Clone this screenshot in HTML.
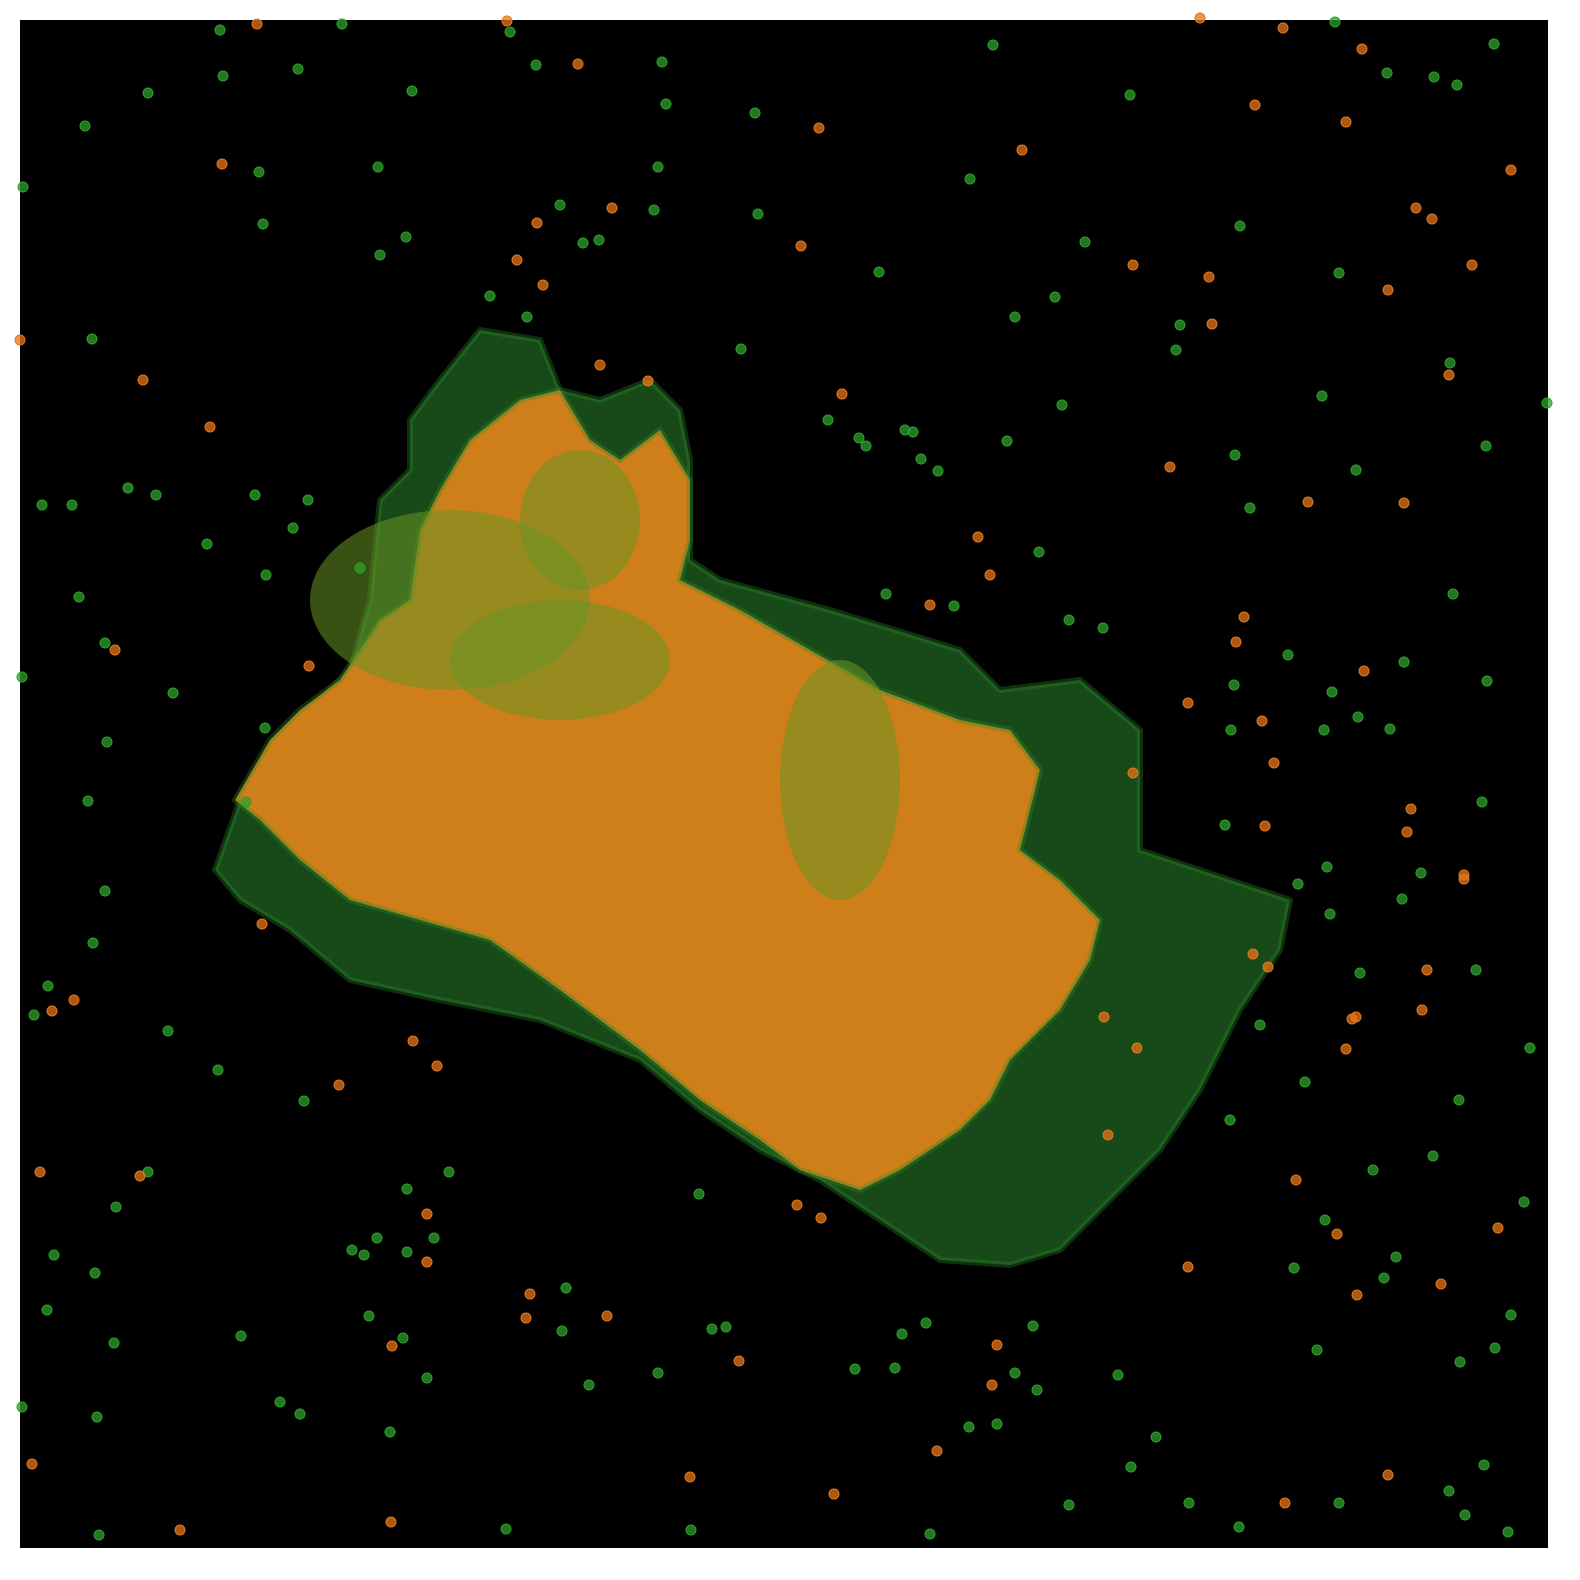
<!DOCTYPE html>
<html><head><meta charset="utf-8"><style>
html,body{margin:0;padding:0;background:#fff;}
svg{display:block;}
</style></head>
<body>
<svg id="chart" width="1580" height="1580" xmlns="http://www.w3.org/2000/svg">
<rect x="0" y="0" width="1580" height="1580" fill="#fff"/>
<rect x="20" y="20" width="1528" height="1528" fill="#000"/>
<g id="cloud"></g>
<g id="pts"></g>
</svg>
<script>
// data coordinates: domain [0,1528] on both axes (y downward)
const greenOutline = [[460,310],[520,320],[540,370],[580,380],[630,360],[660,390],[670,440],[670,540],[700,560],[810,590],[940,630],[980,670],[1060,660],[1120,710],[1120,830],[1180,850],[1270,880],[1260,930],[1220,990],[1180,1070],[1140,1130],[1080,1190],[1040,1230],[990,1245],[920,1240],[860,1200],[800,1160],[740,1130],[680,1090],[620,1040],[520,1000],[420,980],[330,960],[270,910],[220,880],[195,850],[220,780],[280,700],[330,650],[350,580],[360,480],[390,450],[390,400],[420,360]];
const orangeOutline = [[215,780],[250,720],[280,690],[320,660],[360,600],[390,580],[400,510],[420,470],[450,420],[500,380],[540,370],[570,420],[600,440],[640,410],[670,460],[670,520],[660,560],[720,590],[790,630],[860,670],[940,700],[990,710],[1020,750],[1000,830],[1040,860],[1080,900],[1070,940],[1040,990],[990,1040],[970,1080],[940,1110],[880,1150],[840,1170],[780,1150],[740,1120],[680,1080],[620,1030],[540,970],[470,920],[400,900],[330,880],[280,840],[240,800]];
const greenPatches = [[430,580,140,90],[540,640,110,60],[560,500,60,70],[820,760,60,120]];
const greenX = [200,322,490,203,278,128,392,516,642,646,65,239,358,638,735,973,1110,1367,1414,1437,1474,1315,3,243,360,386,540,563,579,634,738,950,1065,1220,1319,859,470,507,995,1035,1160,1156,72,721,1430,1527,1302,1042,808,839,846,885,893,901,918,987,1215,1336,1466,1230,22,52,108,136,235,288,273,187,246,340,59,1019,866,934,1049,1083,1268,1384,1433,1467,1312,1338,1370,1304,1211,1214,2,85,153,245,87,226,1205,1240,1462,68,85,73,1307,1278,1310,1382,1401,1456,1340,1510,1439,1285,1210,28,14,148,198,284,128,96,34,75,429,387,357,332,344,387,414,679,546,542,1274,1305,1353,1413,1504,1376,1364,1491,1475,1440,1297,1136,1111,1098,1017,1013,995,906,882,875,835,706,692,638,569,407,383,349,221,260,280,94,27,2,77,370,949,977,1049,1169,1219,1319,1429,1445,1464,1488,671,486,910,79];
const greenY = [10,4,12,56,49,73,71,45,42,84,106,152,147,147,93,25,75,53,57,65,24,2,167,204,235,217,185,223,220,190,194,159,222,206,253,252,276,297,297,277,305,330,319,329,343,383,376,385,400,418,426,410,412,439,451,421,435,450,426,488,485,485,468,475,475,480,508,524,555,548,577,532,574,586,600,608,635,642,574,661,672,697,709,710,710,665,657,623,673,708,722,782,805,1005,782,781,871,923,847,864,894,879,853,950,953,1028,1080,1062,1100,966,995,1011,1050,1081,1152,1187,1235,1253,1152,1169,1218,1230,1235,1232,1218,1174,1268,1311,1248,1200,1150,1136,1182,1237,1258,1295,1328,1342,1330,1417,1447,1355,1370,1306,1353,1303,1314,1348,1349,1307,1309,1353,1365,1358,1318,1296,1316,1382,1394,1323,1290,1387,1397,1412,1407,1404,1485,1483,1507,1483,1471,1495,1445,1512,1510,1509,1514,1515];
const orangeX = [237,487,558,1180,1263,1342,1235,1326,799,1002,1491,202,592,517,497,523,781,1113,1189,1368,1396,1412,1452,1192,580,628,822,1429,123,190,0,1150,1288,1384,958,970,910,1224,1216,1344,289,95,1168,1242,1254,1113,1391,1387,1444,1444,1245,242,1233,1248,1407,1402,1332,1336,1326,1084,1117,54,32,393,417,319,20,120,407,407,510,506,587,719,777,801,1088,1276,1317,1168,1337,1421,1478,977,972,917,670,814,372,371,160,12,1265,1368];
const orangeY = [4,1,44,-2,8,29,85,102,108,130,150,144,188,203,240,265,226,245,257,270,188,199,245,304,345,361,374,355,360,407,320,447,482,483,517,555,585,597,622,651,646,630,683,701,743,753,789,812,855,859,806,904,934,947,950,990,999,997,1029,997,1028,980,991,1021,1046,1065,1152,1156,1194,1242,1274,1298,1296,1341,1185,1198,1115,1160,1214,1247,1275,1264,1208,1325,1365,1431,1457,1474,1326,1502,1510,1444,1483,1455];

const X0 = 20, Y0 = 20, W = 1528, H = 1528, D = 1528;
const xs = v => X0 + v / D * W;
const ys = v => Y0 + v / D * H;
const NS = 'http://www.w3.org/2000/svg';
const cloud = document.getElementById('cloud');
const pts = document.getElementById('pts');

function poly(arr, fill, op, name) {
  const p = document.createElementNS(NS, 'polygon');
  p.setAttribute('points', arr.map(a => xs(a[0]) + ',' + ys(a[1])).join(' '));
  p.setAttribute('fill', fill);
  p.setAttribute('fill-opacity', op);
  p.setAttribute('stroke', '#2a8a2a');
  p.setAttribute('stroke-opacity', '0.35');
  p.setAttribute('stroke-width', '6');
  p.setAttribute('stroke-linejoin', 'round');
  
  
  cloud.appendChild(p);
}
poly(greenOutline, '#174a18', 1, 'green-cloud-region');
poly(orangeOutline, '#cf7f1a', 1, 'orange-cloud-region');
greenPatches.forEach(g => {
  const e = document.createElementNS(NS, 'ellipse');
  e.setAttribute('cx', xs(g[0]));
  e.setAttribute('cy', ys(g[1]));
  e.setAttribute('rx', g[2] / D * W);
  e.setAttribute('ry', g[3] / D * H);
  e.setAttribute('fill', '#6a9424');
  e.setAttribute('fill-opacity', '0.55');
  
  
  cloud.appendChild(e);
});

function dots(xa, ya, fill, name) {
  for (let i = 0; i < xa.length; i++) {
    const c = document.createElementNS(NS, 'circle');
    c.setAttribute('cx', xs(xa[i]));
    c.setAttribute('cy', ys(ya[i]));
    c.setAttribute('r', 5);
    c.setAttribute('fill', fill);
    c.setAttribute('fill-opacity', '0.75');
    c.setAttribute('stroke', fill);
    c.setAttribute('stroke-width', '1');
    
    
    pts.appendChild(c);
  }
}
dots(greenX, greenY, '#2ca02c', 'green-outlier-point');
dots(orangeX, orangeY, '#e6761a', 'orange-outlier-point');
</script>
</body></html>
